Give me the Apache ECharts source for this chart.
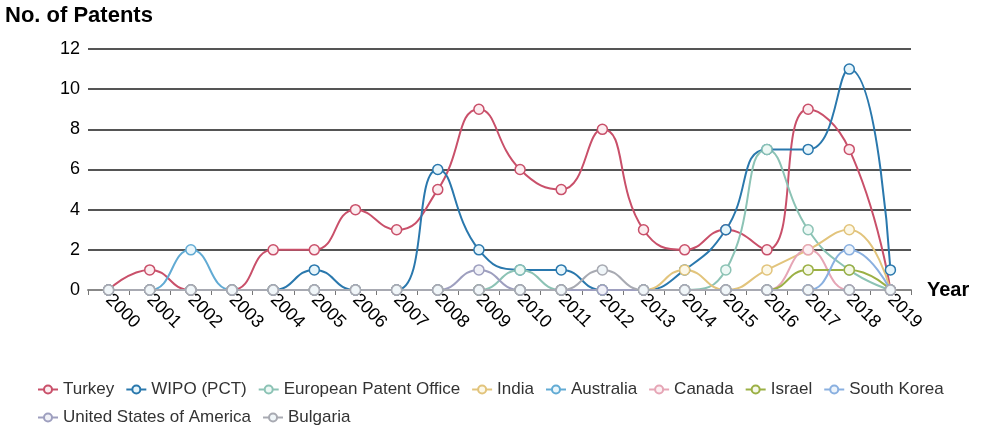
<!DOCTYPE html>
<html>
<head>
    <meta charset="utf-8" />
    <title>No. of Patents by Office</title>
    <script src="https://cdn.jsdelivr.net/npm/echarts@6.0.0/dist/echarts.min.js"></script>
    <style>
        * { margin: 0; padding: 0; box-sizing: border-box }
        body { background: #fff; font-family: 'Liberation Sans', Arial, sans-serif }
        #chart { width: 995px; height: 430px }
    </style>
</head>
<body>
    <div id="chart"></div>
    <script>
        const years = ['2000', '2001', '2002', '2003', '2004', '2005', '2006', '2007', '2008', '2009',
                       '2010', '2011', '2012', '2013', '2014', '2015', '2016', '2017', '2018', '2019'];

        const turkey    = [0, 1, 0, 0, 2, 2, 4, 3, 5, 9, 6, 5, 8, 3, 2, 3, 2, 9, 7, 0];
        const wipo      = [0, 0, 0, 0, 0, 1, 0, 0, 6, 2, 1, 1, 0, 0, 1, 3, 7, 7, 11, 1];
        const epo       = [0, 0, 0, 0, 0, 0, 0, 0, 0, 0, 1, 0, 0, 0, 0, 1, 7, 3, 1, 0];
        const india     = [0, 0, 0, 0, 0, 0, 0, 0, 0, 0, 0, 0, 0, 0, 1, 0, 1, 2, 3, 0];
        const australia = [0, 0, 2, 0, 0, 0, 0, 0, 0, 0, 0, 0, 0, 0, 0, 0, 0, 0, 0, 0];
        const canada    = [0, 0, 0, 0, 0, 0, 0, 0, 0, 0, 0, 0, 0, 0, 0, 0, 0, 2, 0, 0];
        const israel    = [0, 0, 0, 0, 0, 0, 0, 0, 0, 0, 0, 0, 0, 0, 0, 0, 0, 1, 1, 0];
        const korea     = [0, 0, 0, 0, 0, 0, 0, 0, 0, 0, 0, 0, 0, 0, 0, 0, 0, 0, 2, 0];
        const usa       = [0, 0, 0, 0, 0, 0, 0, 0, 0, 1, 0, 0, 0, 0, 0, 0, 0, 0, 0, 0];
        const bulgaria  = [0, 0, 0, 0, 0, 0, 0, 0, 0, 0, 0, 0, 1, 0, 0, 0, 0, 0, 0, 0];

        const seriesDefs = [
            { name: 'Turkey', data: turkey, color: '#c9506a', fill: '#fcedf0' },
            { name: 'WIPO (PCT)', data: wipo, color: '#2a78ad', fill: '#e6f5fb' },
            { name: 'European Patent Office', data: epo, color: '#8cc3b5', fill: '#edf8f5' },
            { name: 'India', data: india, color: '#e2c47c', fill: '#fcf8e8' },
            { name: 'Australia', data: australia, color: '#62abd4', fill: '#eaf6fb' },
            { name: 'Canada', data: canada, color: '#e6a6b6', fill: '#fcf0f3' },
            { name: 'Israel', data: israel, color: '#9bb045', fill: '#f5f8e8' },
            { name: 'South Korea', data: korea, color: '#8ab0e0', fill: '#edf4fb' },
            { name: 'United States of America', data: usa, color: '#9e9fbf', fill: '#f0f1f7' },
            { name: 'Bulgaria', data: bulgaria, color: '#a8aab2', fill: '#f0f6f9' }
        ];

        const chart = echarts.init(document.getElementById('chart'));

        const option = {
            animation: false,
            title: {
                text: 'No. of Patents',
                left: 0,
                top: 0,
                textStyle: { fontSize: 22, fontWeight: 'bold', color: '#000', fontFamily: 'Liberation Sans' }
            },
            legend: {
                left: 32,
                bottom: -1,
                width: 930,
                itemWidth: 20,
                itemHeight: 10,
                itemGap: 11,
                textStyle: { fontSize: 17, color: '#333', fontFamily: 'Liberation Sans' },
                data: seriesDefs.map(s => s.name)
            },
            grid: {
                left: 88,
                right: 84,
                top: 49,
                bottom: 140
            },
            xAxis: {
                type: 'category',
                data: years,
                boundaryGap: true,
                name: 'Year',
                nameLocation: 'end',
                nameGap: 16,
                nameTextStyle: { fontSize: 20, fontWeight: 'bold', color: '#000', fontFamily: 'Liberation Sans' },
                axisLine: { lineStyle: { color: '#888', width: 2 } },
                axisTick: { show: true, length: 5, lineStyle: { color: '#777' } },
                axisLabel: {
                    rotate: -45,
                    interval: 0,
                    fontSize: 18,
                    color: '#000',
                    margin: 7,
                    fontFamily: 'Liberation Sans'
                }
            },
            yAxis: {
                type: 'value',
                min: 0,
                max: 12,
                interval: 2,
                axisLine: { show: false },
                axisTick: { show: false },
                axisLabel: { fontSize: 18, color: '#000', margin: 8, fontFamily: 'Liberation Sans' },
                splitLine: { lineStyle: { color: '#555', width: 2 } }
            },
            series: seriesDefs.map(s => ({
                name: s.name,
                type: 'line',
                data: s.data,
                smooth: 0.5,
                symbol: 'circle',
                symbolSize: 10,
                lineStyle: { width: 2, color: s.color },
                itemStyle: { color: s.fill, borderColor: s.color, borderWidth: 1.5 }
            }))
        };

        chart.setOption(option);
    </script>
</body>
</html>
